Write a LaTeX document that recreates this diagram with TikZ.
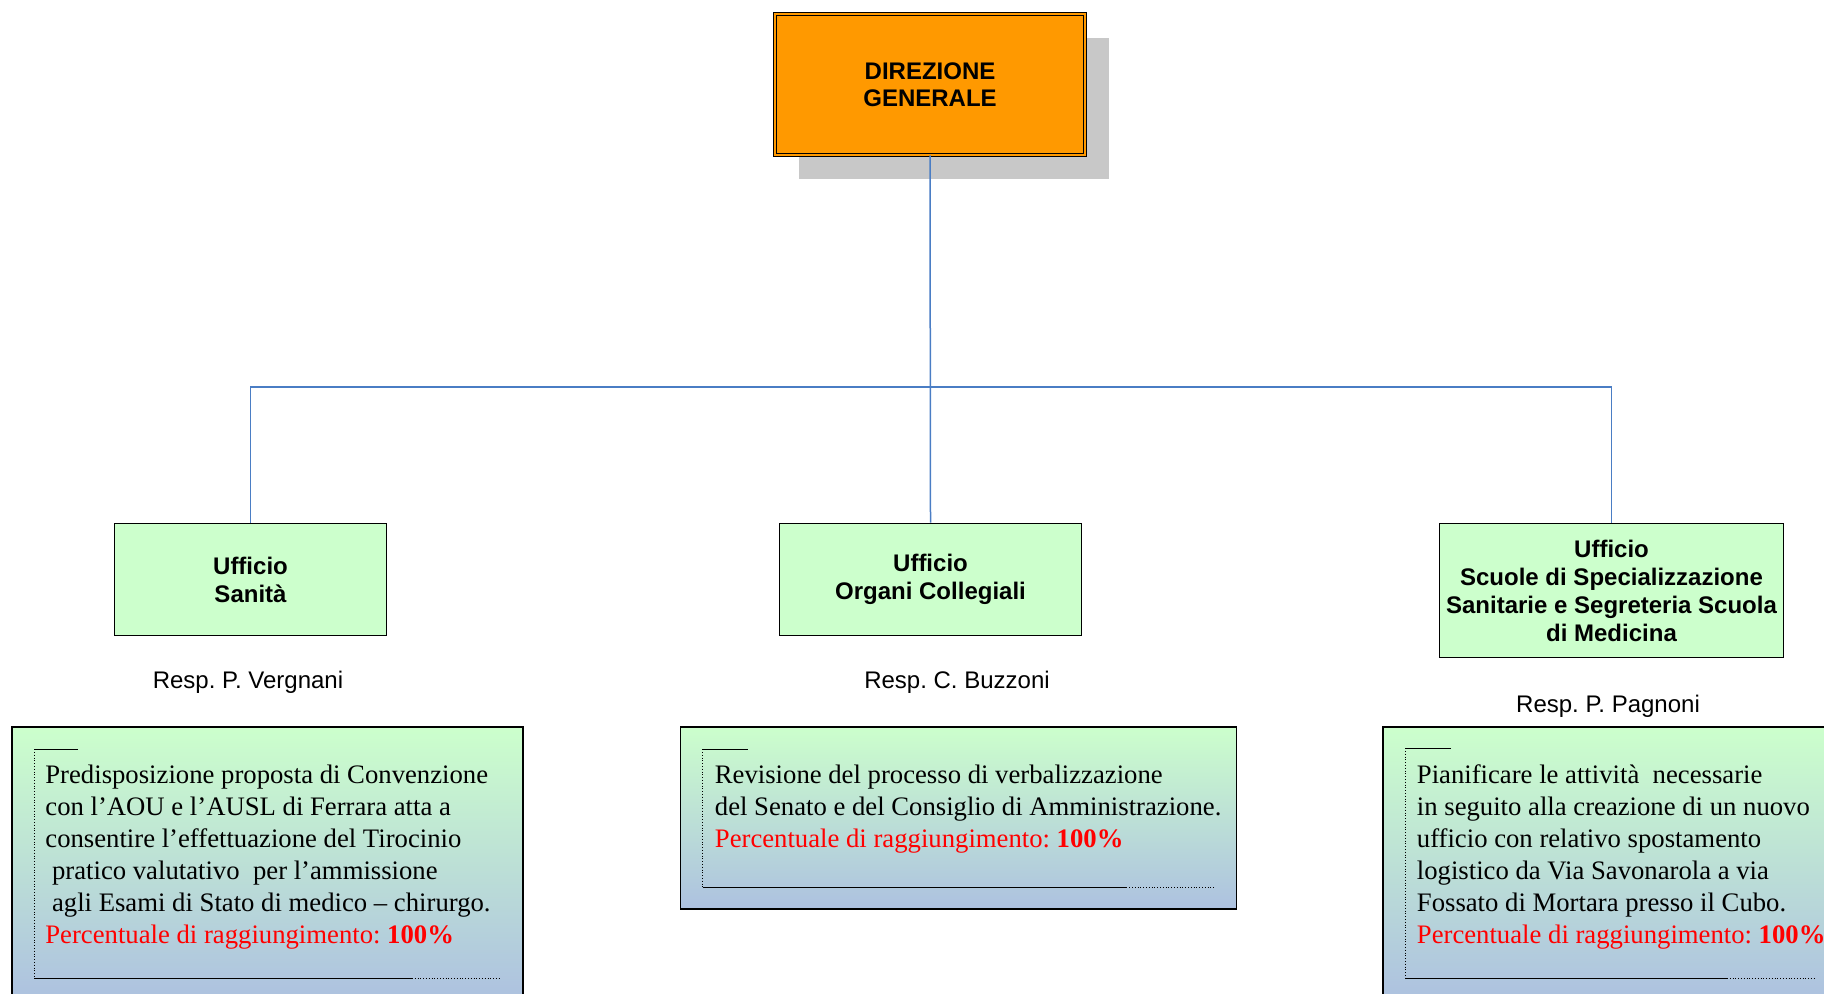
\documentclass[tikz,border=0pt]{standalone}
\usepackage{fontspec}
\setmainfont{Liberation Sans}
\newfontfamily\goalfont{Liberation Serif}
\usetikzlibrary{shadows}
\frenchspacing

\definecolor{dgorange}{HTML}{FF9900}
\definecolor{shadowgray}{HTML}{C8C8C8}
\definecolor{uffgreen}{HTML}{CCFFCC}
\definecolor{goalblue}{HTML}{ADC1E0}
\definecolor{linkblue}{HTML}{4A7DC4}

\begin{document}
\begin{tikzpicture}[x=0.5pt,y=-0.5pt,thick,
  dg node/.style={rectangle,draw=black,line width=0.5pt,double=dgorange,double distance=1.2pt,fill=dgorange,align=center,font=\fontsize{12pt}{13.5pt}\selectfont\bfseries,drop shadow={shadow xshift=12pt,shadow yshift=-12pt,fill=shadowgray,opacity=1}},
  uff node/.style={rectangle,draw=black,line width=0.8pt,fill=uffgreen,align=center,font=\fontsize{12pt}{14pt}\selectfont\bfseries},
  resp node/.style={font=\fontsize{12pt}{14pt}\selectfont},
  goal box/.style={rectangle,draw=black,line width=0.9pt,top color=uffgreen,bottom color=goalblue},
  goal text/.style={anchor=north west,inner sep=0pt,align=left,font=\goalfont\fontsize{13.35pt}{16pt}\selectfont},
  link/.style={draw=linkblue,line width=0.75pt}]

            \useasboundingbox (0,0) rectangle (1824,993);
            \clip (0,0) rectangle (1824,993);

            \node[dg node, minimum width=155pt, minimum height=70.3pt] (dg) at (930,84.5) {DIREZIONE\\GENERALE};

            \node[uff node, minimum width=136pt, minimum height=56pt] (sanita) at (250.5,579.5) {Ufficio\\Sanità};
            \node[uff node, minimum width=151pt, minimum height=56pt] (organi) at (930.5,579.5) {Ufficio\\Organi Collegiali};
            \node[uff node, minimum width=170pt, minimum height=67pt] (scuole) at (1611.5,590.5) {Ufficio\\Scuole di Specializzazione\\Sanitarie e Segreteria Scuola\\di Medicina};

            \node[resp node] (rsan) at (248,682) {Resp. P. Vergnani};
            \node[resp node] (rorg) at (957,682) {Resp. C. Buzzoni};
            \node[resp node] (rscu) at (1608,706) {Resp. P. Pagnoni};

            \coordinate (bus) at (930,387);
            \draw[link] (dg.south) -- (organi.north);
            \draw[link] (sanita.north) |- (bus) -| (scuole.north);

            % obiettivi
            \node[goal box, minimum width=255.5pt, minimum height=136.5pt] (gsan) at (267.5,863.5) {};
            \node[goal box, minimum width=278pt, minimum height=91pt] (gorg) at (958.5,818) {};
            \node[goal box, minimum width=227pt, minimum height=136.5pt] (gscu) at (1610,863.5) {};

            \draw[thin] ([xshift=33.5pt,yshift=-11.5pt]gsan.north west) -- ([xshift=11.5pt,yshift=-11.5pt]gsan.north west) ([xshift=11.5pt,yshift=11.5pt]gsan.south west) -- ([xshift=-56pt,yshift=11.5pt]gsan.south east);
            \draw[thin,densely dotted] ([xshift=11.5pt,yshift=-11.5pt]gsan.north west) -- ([xshift=11.5pt,yshift=11.5pt]gsan.south west) ([xshift=-56pt,yshift=11.5pt]gsan.south east) -- ([xshift=-11.5pt,yshift=11.5pt]gsan.south east);
            \draw[thin] ([xshift=34pt,yshift=-11.5pt]gorg.north west) -- ([xshift=11.5pt,yshift=-11.5pt]gorg.north west) ([xshift=11.5pt,yshift=11.5pt]gorg.south west) -- ([xshift=-55.5pt,yshift=11.5pt]gorg.south east);
            \draw[thin,densely dotted] ([xshift=11.5pt,yshift=-11.5pt]gorg.north west) -- ([xshift=11.5pt,yshift=11.5pt]gorg.south west) ([xshift=-55.5pt,yshift=11.5pt]gorg.south east) -- ([xshift=-11.25pt,yshift=11.5pt]gorg.south east);
            \draw[thin] ([xshift=34.5pt,yshift=-11pt]gscu.north west) -- ([xshift=11.5pt,yshift=-11pt]gscu.north west) ([xshift=11.5pt,yshift=11.5pt]gscu.south west) -- ([xshift=-55.5pt,yshift=11.5pt]gscu.south east);
            \draw[thin,densely dotted] ([xshift=11.5pt,yshift=-11pt]gscu.north west) -- ([xshift=11.5pt,yshift=11.5pt]gscu.south west) ([xshift=-55.5pt,yshift=11.5pt]gscu.south east) -- ([xshift=-11pt,yshift=11.5pt]gscu.south east);

            \node[goal text] (tsan) at ([xshift=16.75pt,yshift=-19pt]gsan.north west) {Predisposizione proposta di Convenzione\\con l’AOU e l’AUSL di Ferrara atta a\\consentire l’effettuazione del Tirocinio\\\ pratico valutativo\ \ per l’ammissione\\\ agli Esami di Stato di medico – chirurgo.\\\textcolor{red}{Percentuale di raggiungimento: \textbf{100\%}}};
            \node[goal text] (torg) at ([xshift=17.25pt,yshift=-19pt]gorg.north west) {Revisione del processo di verbalizzazione\\del Senato e del Consiglio di Amministrazione.\\\textcolor{red}{Percentuale di raggiungimento: \textbf{100\%}}};
            \node[goal text] (tscu) at ([xshift=17pt,yshift=-19pt]gscu.north west) {Pianificare le attività\ \ necessarie\\in seguito alla creazione di un nuovo\\ufficio con relativo spostamento\\logistico da Via Savonarola a via\\Fossato di Mortara presso il Cubo.\\\textcolor{red}{Percentuale di raggiungimento: \textbf{100\%}}};

        \end{tikzpicture}
\end{document}
